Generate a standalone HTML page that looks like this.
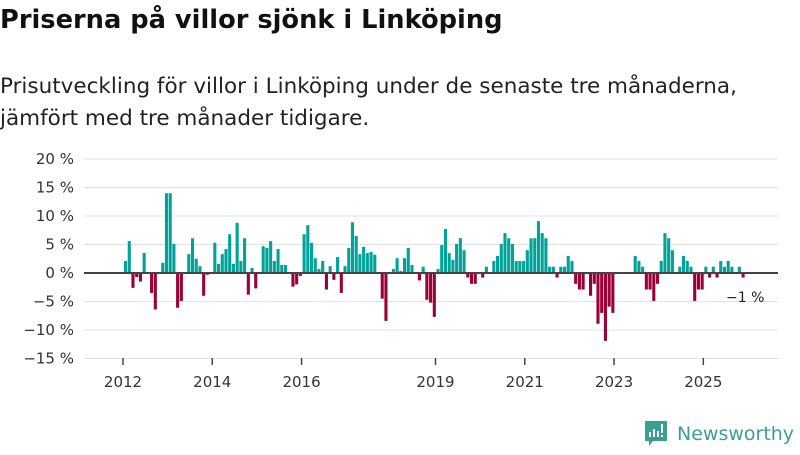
<!DOCTYPE html>
<html><head><meta charset="utf-8"><style>
body{margin:0;width:800px;height:450px;background:#fff;font-family:"Liberation Sans","DejaVu Sans",sans-serif;overflow:hidden}
svg text{font-family:"DejaVu Sans","Liberation Sans",sans-serif}
</style></head><body>
<svg id="c" width="800" height="450">
<text x="0" y="28" font-size="25.7" font-weight="bold" fill="#111">Priserna på villor sjönk i Linköping</text>
<text x="0" y="93" font-size="21.5" fill="#222">Prisutveckling för villor i Linköping under de senaste tre månaderna,</text>
<text x="0" y="125" font-size="21.5" fill="#222">jämfört med tre månader tidigare.</text>
<g id="grid"></g><g id="bars"></g><g id="xax"></g>
<text x="726" y="302" font-size="14" fill="#222">−1 %</text>
<g>
<path d="M645 421h22v20h-14l-4 5v-5h-4z" fill="#3a9e96"/>
<rect x="649" y="432" width="2" height="5" fill="#fff"/><rect x="653" y="429" width="2" height="8" fill="#fff"/><rect x="657" y="431" width="2" height="6" fill="#fff"/><rect x="661" y="424" width="2" height="9" fill="#fff"/><rect x="661" y="435" width="2" height="2" fill="#fff"/>
<text x="677" y="440" font-size="19" fill="#3a9e96">Newsworthy</text>
</g>
</svg>
<script>
const yTicks=[20,15,10,5,0,-5,-10,-15];
const yTickLabels=["20 %","15 %","10 %","5 %","0 %","−5 %","−10 %","−15 %"];
const xTickYears=[2012,2014,2016,2019,2021,2023,2025];
const startYear=2012;
const values=[2.1,5.6,-2.6,-0.7,-1.5,3.5,0,-3.5,-6.4,0,1.8,14,14,5.1,-6.1,-4.9,0,3.3,6.1,2.5,1.2,-4.0,-0.3,0,
5.3,1.6,3.3,4.2,6.8,1.6,8.8,2.1,6.1,-3.8,0.9,-2.7,0,4.7,4.4,5.6,2.1,4.2,1.4,1.4,0,-2.4,-2.0,-0.5,
6.8,8.4,5.3,2.6,0.7,2.1,-2.9,1.2,-1.2,2.8,-3.5,1.2,4.4,8.9,6.5,3.3,4.6,3.5,3.7,3.2,0,-4.5,-8.4,0,
0.7,2.6,0.35,2.6,4.4,1.4,0,-1.3,1.1,-4.7,-5.2,-7.7,0.7,4.9,7.7,3.5,2.3,5.1,6.1,4.0,-0.8,-1.9,-1.9,0,
-0.8,1.1,0,2.1,3.0,5.1,7.0,6.1,5.1,2.1,2.1,2.1,4.0,6.1,6.1,9.1,7.0,6.1,1.1,1.1,-0.8,1.1,1.1,3.0,
2.1,-1.9,-2.9,-2.9,0,-4.0,-1.9,-8.9,-7.0,-11.9,-5.9,-7.0,0,0,0,0,0,3.0,2.1,1.1,-2.9,-2.9,-4.9,-1.9,
2.1,7.0,6.1,4.0,0,1.1,3.0,2.1,1.1,-4.9,-2.9,-2.9,1.1,-0.8,1.1,-0.8,2.1,1.1,2.1,1.1,0,1.1,-0.8];
const NS="http://www.w3.org/2000/svg";
const y0=273,pxPer=5.7;
function yS(v){return y0-v*pxPer;}
function xS(m){return 124+m*3.72;}
const grid=document.getElementById('grid');
yTicks.forEach((t,i)=>{
 const l=document.createElementNS(NS,'line');
 l.setAttribute('x1',84);l.setAttribute('x2',778);l.setAttribute('y1',yS(t));l.setAttribute('y2',yS(t));
 l.setAttribute('stroke','#e2e2e2');l.setAttribute('stroke-width',1);
 
 
 grid.appendChild(l);
 const tx=document.createElementNS(NS,'text');
 tx.setAttribute('x',74);tx.setAttribute('y',yS(t)+5);tx.setAttribute('text-anchor','end');
 tx.setAttribute('font-size','15');tx.setAttribute('fill','#333');tx.textContent=yTickLabels[i];
 
 
 grid.appendChild(tx);
});
const bars=document.getElementById('bars');
values.forEach((v,m)=>{
 if(v===0)return;
 const r=document.createElementNS(NS,'rect');
 const y=Math.min(yS(v),y0),h=Math.abs(yS(v)-y0);
 r.setAttribute('x',xS(m));r.setAttribute('width',3.1);r.setAttribute('y',y);r.setAttribute('height',h);
 r.setAttribute('fill',v>0?'#00a39a':'#9b0037');
 
 
 bars.appendChild(r);
});
const zl=document.createElementNS(NS,'line');
zl.setAttribute('x1',84);zl.setAttribute('x2',778);zl.setAttribute('y1',y0);zl.setAttribute('y2',y0);
zl.setAttribute('stroke','#444');zl.setAttribute('stroke-width',2);


bars.appendChild(zl);
const xax=document.getElementById('xax');
xTickYears.forEach(yr=>{
 const x=xS((yr-startYear)*12)-1;
 const t=document.createElementNS(NS,'line');
 t.setAttribute('x1',x);t.setAttribute('x2',x);t.setAttribute('y1',358);t.setAttribute('y2',365);
 t.setAttribute('stroke','#444');t.setAttribute('stroke-width',1.5);
 
 
 xax.appendChild(t);
 const tx=document.createElementNS(NS,'text');
 tx.setAttribute('x',x);tx.setAttribute('y',387);tx.setAttribute('text-anchor','middle');
 tx.setAttribute('font-size','15');tx.setAttribute('fill','#333');tx.textContent=yr;
 
 
 xax.appendChild(tx);
});
</script>
</body></html>
